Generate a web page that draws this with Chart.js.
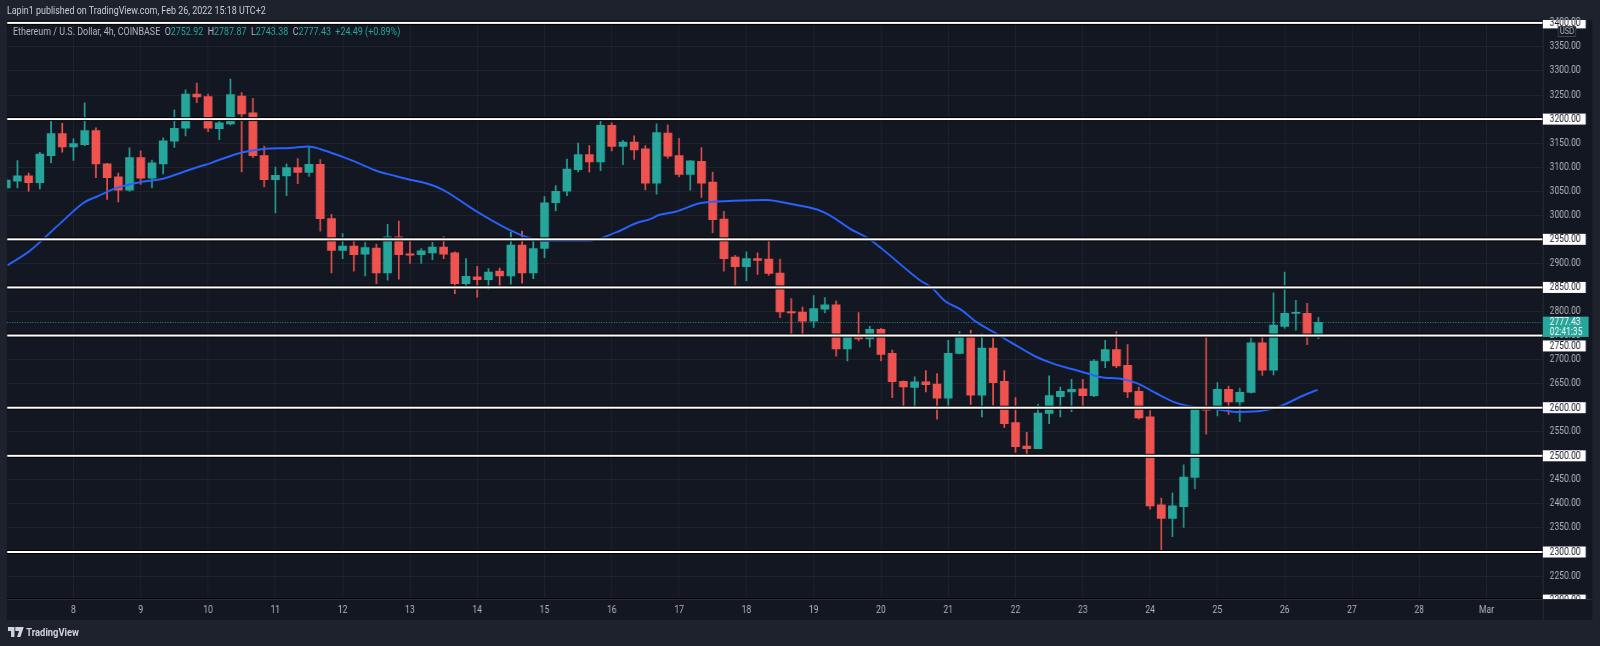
<!DOCTYPE html>
<html>
<head>
<meta charset="utf-8">
<script src="https://cdn.jsdelivr.net/npm/chart.js@4.4.1/dist/chart.umd.min.js"></script>
<style>
  html, body { margin: 0; padding: 0; background: #1e222d; overflow: hidden; width: 1600px; height: 646px; }
  #wrap { position: absolute; left: 0; top: 0; width: 1882px; height: 646px; transform: scaleX(0.85016); transform-origin: 0 0; font-family: Roboto, "Liberation Sans", sans-serif; }
  #panel { position: absolute; left: 8.2px; top: 20px; width: 1864.4px; height: 600px; background: #131722; }
  #box { position: absolute; left: 0; top: 0; width: 1882px; height: 646px; }
  #head { position: absolute; left: 8.2px; top: 4px; font-size: 10.5px; line-height: 13px; color: #c9ccd3; white-space: nowrap; }
  #legend { position: absolute; left: 15.3px; top: 25px; font-size: 10.5px; line-height: 13px; color: #b2b5be; white-space: nowrap; }
  #legend .v { color: #26a69a; }
  #foot { position: absolute; left: 9px; top: 626px; font-size: 11px; line-height: 14px; color: #d1d4dc; font-weight: bold; white-space: nowrap; }
  #foot svg { vertical-align: -1px; margin-right: 3px; }
</style>
</head>
<body>
<div id="wrap">
  <div id="panel"></div>
  <div id="box"><canvas id="chart"></canvas></div>
  <div id="head">Lapin1 published on TradingView.com, Feb 26, 2022 15:18 UTC+2</div>
  <div id="legend"></div>
  <div id="foot"><svg width="19" height="10" viewBox="0 0 19 10"><path d="M0 0h8v10H4V4H0z" fill="#d1d4dc"/><path d="M9 0h10l-4 10h-4l2.5-6H9z" fill="#d1d4dc"/></svg>TradingView</div>
</div>
<script>
// 4h candles, ETH/USD Coinbase, from Feb 7
const candleStart = 7;
const candleStep = 1 / 6;

const opens = [3057, 3071, 3082, 3068, 3124, 3170, 3142, 3147, 3176, 3107,
  3080, 3052, 3120, 3077, 3107, 3154, 3181, 3252, 3247, 3180,
  3190, 3248, 3213, 3124, 3074, 3082, 3099, 3089, 3106, 2993,
  2927, 2936, 2919, 2932, 2880, 2955, 2920, 2918, 2922, 2934,
  2922, 2858, 2872, 2866, 2884, 2874, 2938, 2880, 2931, 3026,
  3050, 3095, 3126, 3111, 3187, 3143, 3152, 3138, 3067, 3171,
  3124, 3085, 3112, 3069, 2992, 2913, 2893, 2910, 2909, 2880,
  2800, 2799, 2780, 2805, 2814, 2722, 2747, 2743, 2763, 2713,
  2655, 2642, 2654, 2649, 2620, 2713, 2749, 2626, 2724, 2655,
  2569, 2520, 2515, 2588, 2623, 2633, 2639, 2625, 2697, 2721,
  2688, 2634, 2581, 2398, 2370, 2394, 2455, 2599, 2599, 2638,
  2612, 2632, 2735, 2678, 2769, 2796, 2796, 2752.92];
const highs = [3080, 3114, 3088, 3131, 3199, 3191, 3159, 3234, 3182, 3108,
  3088, 3140, 3134, 3115, 3161, 3219, 3261, 3275, 3252, 3201,
  3283, 3255, 3243, 3144, 3100, 3107, 3118, 3142, 3116, 3002,
  2962, 2948, 2944, 2940, 2981, 2988, 2948, 2931, 2944, 2956,
  2924, 2910, 2894, 2889, 2890, 2965, 2967, 2948, 3039, 3062,
  3117, 3150, 3145, 3199, 3192, 3156, 3165, 3145, 3190, 3188,
  3160, 3114, 3141, 3090, 3008, 2917, 2924, 2922, 2946, 2909,
  2827, 2809, 2833, 2829, 2822, 2748, 2798, 2769, 2765, 2720,
  2656, 2664, 2677, 2671, 2740, 2758, 2761, 2754, 2745, 2677,
  2621, 2549, 2607, 2666, 2643, 2659, 2659, 2700, 2740, 2758,
  2731, 2643, 2594, 2412, 2423, 2481, 2603, 2753, 2652, 2645,
  2641, 2746, 2747, 2839, 2882, 2823, 2817, 2787.87];
const lows = [3050, 3057, 3050, 3055, 3109, 3131, 3114, 3145, 3078, 3033,
  3028, 3050, 3064, 3057, 3086, 3141, 3165, 3234, 3174, 3157,
  3188, 3090, 3120, 3059, 3005, 3041, 3066, 3081, 2967, 2880,
  2910, 2884, 2874, 2858, 2865, 2867, 2900, 2900, 2908, 2910,
  2837, 2851, 2830, 2846, 2848, 2857, 2859, 2868, 2912, 3009,
  3041, 3090, 3090, 3093, 3134, 3105, 3116, 3053, 3044, 3118,
  3080, 3052, 3037, 2964, 2884, 2852, 2864, 2877, 2875, 2787,
  2753, 2753, 2767, 2797, 2707, 2697, 2739, 2726, 2697, 2621,
  2602, 2602, 2633, 2576, 2604, 2712, 2607, 2581, 2605, 2559,
  2507, 2501, 2515, 2567, 2581, 2592, 2602, 2623, 2683, 2683,
  2621, 2576, 2389, 2302, 2332, 2351, 2431, 2545, 2583, 2586,
  2571, 2630, 2667, 2668, 2765, 2761, 2731, 2743.38];
const closes = [3073, 3082, 3068, 3127, 3170, 3142, 3149, 3176, 3107, 3078,
  3052, 3120, 3077, 3109, 3155, 3181, 3252, 3246, 3181, 3192,
  3251, 3211, 3124, 3074, 3083, 3099, 3089, 3106, 2993, 2927,
  2936, 2918, 2933, 2880, 2955, 2918, 2917, 2926, 2934, 2919,
  2858, 2873, 2866, 2882, 2874, 2938, 2880, 2931, 3026, 3050,
  3096, 3126, 3111, 3187, 3143, 3152, 3136, 3067, 3172, 3123,
  3085, 3113, 3067, 2991, 2910, 2893, 2910, 2906, 2879, 2799,
  2797, 2780, 2806, 2814, 2722, 2747, 2743, 2763, 2711, 2654,
  2643, 2654, 2648, 2620, 2713, 2749, 2626, 2724, 2652, 2567,
  2519, 2515, 2589, 2625, 2634, 2638, 2625, 2697, 2721, 2687,
  2633, 2579, 2396, 2370, 2396, 2456, 2601, 2595, 2638, 2612,
  2632, 2735, 2678, 2772, 2796, 2797, 2752.94, 2777.43];

// moving average (day of Feb, price)
const maDays = [7.02, 7.35, 7.80, 8.15, 8.35, 8.64, 8.99, 9.33, 9.63, 9.88,
  10.03, 10.18, 10.52, 10.82, 11.22, 11.49, 11.66, 12.01, 12.26, 12.51,
  12.75, 13.00, 13.25, 13.49, 13.99, 14.39, 14.73, 15.03, 15.67, 16.07,
  16.37, 16.57, 16.71, 16.96, 17.31, 17.80, 18.30, 18.65, 19.05, 19.24,
  19.54, 19.81, 20.01, 20.58, 20.75, 20.95, 21.20, 21.40, 21.69, 21.94,
  22.29, 22.59, 22.93, 23.25, 23.60, 23.82, 24.09, 24.39, 24.64, 24.94,
  25.33, 25.68, 25.93, 26.32, 26.49];
const maValues = [2896, 2926, 2983, 3026, 3039, 3057, 3069, 3076, 3090, 3102,
  3108, 3116, 3131, 3138, 3140, 3143, 3138, 3121, 3107, 3092,
  3083, 3074, 3066, 3053, 3008, 2976, 2955, 2947, 2947, 2965,
  2984, 2992, 3001, 3008, 3025, 3030, 3032, 3024, 3012, 3000,
  2972, 2952, 2931, 2865, 2850, 2822, 2803, 2780, 2756, 2735,
  2707, 2690, 2677, 2664, 2659, 2650, 2630, 2610, 2602, 2598,
  2591, 2594, 2603, 2628, 2637];

const levels = [3400, 3200, 2950, 2850, 2750, 2600, 2500, 2300, 2200];
const yTicks = [2250, 2300, 2350, 2400, 2450, 2500, 2550, 2600, 2650, 2700, 2750, 2800,
  2850, 2900, 2950, 3000, 3050, 3100, 3150, 3200, 3250, 3300, 3350, 3400];
const xTickDays = [8, 9, 10, 11, 12, 13, 14, 15, 16, 17, 18, 19, 20, 21, 22, 23, 24, 25, 26, 27, 28, 29];
const xTickLabels = ['8', '9', '10', '11', '12', '13', '14', '15', '16', '17', '18', '19', '20',
  '21', '22', '23', '24', '25', '26', '27', '28', 'Mar'];
const countdown = '02:41:35';

const UP = '#26a69a', DOWN = '#ef5350';
const n = closes.length;
const times = Array.from({ length: n }, (_, i) => candleStart + i * candleStep);
const colors = closes.map((c, i) => c >= opens[i] ? UP : DOWN);
const last = n - 1;
const lastPrice = closes[last];

// legend line
const chg = closes[last] - closes[last - 1];
const pct = chg / closes[last - 1] * 100;
document.getElementById('legend').innerHTML =
  'Ethereum / U.S. Dollar, 4h, COINBASE&nbsp;&nbsp;' +
  'O<span class="v">' + opens[last].toFixed(2) + '</span>&nbsp;&nbsp;' +
  'H<span class="v">' + highs[last].toFixed(2) + '</span>&nbsp;&nbsp;' +
  'L<span class="v">' + lows[last].toFixed(2) + '</span>&nbsp;&nbsp;' +
  'C<span class="v">' + closes[last].toFixed(2) + '</span>&nbsp;&nbsp;' +
  '<span class="v">+' + chg.toFixed(2) + ' (+' + pct.toFixed(2) + '%)</span>';

const S = 1600 / 1882;
const tickFont = { family: 'Roboto, "Liberation Sans", sans-serif', size: 10 };

const levelPlugin = {
  id: 'levels',
  beforeDatasetsDraw(chart) {
    const { ctx, chartArea: a, scales: { y } } = chart;
    const py = Math.round(y.getPixelForValue(lastPrice)) + 0.5;
    ctx.save();
    ctx.strokeStyle = UP;
    ctx.lineWidth = 1;
    ctx.setLineDash([1, 2]);
    ctx.beginPath();
    ctx.moveTo(a.left, py);
    ctx.lineTo(a.right, py);
    ctx.stroke();
    ctx.restore();
  },
  afterDatasetsDraw(chart) {
    const { ctx, chartArea: a, scales: { y } } = chart;
    ctx.save();
    ctx.beginPath();
    ctx.rect(a.left, a.top, a.right - a.left, a.bottom - a.top);
    ctx.clip();
    levels.forEach(l => {
      const py = y.getPixelForValue(l);
      ctx.fillStyle = '#000000';
      ctx.fillRect(a.left, py - 2, a.right - a.left, 4);
      ctx.fillStyle = '#ffffff';
      ctx.fillRect(a.left, py - 1, a.right - a.left, 2);
    });
    ctx.restore();
  },
  afterDraw(chart) {
    const { ctx, chartArea: a, scales: { y } } = chart;
    // separators
    ctx.save();
    ctx.strokeStyle = '#2a2e39';
    ctx.lineWidth = 1;
    ctx.beginPath();
    ctx.moveTo(a.right + 0.5, a.top);
    ctx.lineTo(a.right + 0.5, a.bottom + 21);
    ctx.moveTo(a.left, a.bottom + 0.5);
    ctx.lineTo(a.right + 58, a.bottom + 0.5);
    ctx.stroke();
    ctx.restore();

    const pp = y.getPixelForValue(lastPrice);
    const pTop = pp - 5.7, pBot = pp + 14.6;
    ctx.save();
    ctx.beginPath();
    ctx.rect(a.right, a.top, 70, a.bottom - a.top);
    ctx.clip();
    ctx.font = '10px Roboto, "Liberation Sans", sans-serif';
    ctx.textBaseline = 'middle';
    levels.forEach(l => {
      let by = y.getPixelForValue(l);
      if (by > pTop - 6 && by < pBot + 6) by = pBot + 9;
      ctx.fillStyle = '#ffffff';
      ctx.fillRect(a.right, by - 5.5, 50.6, 11);
      ctx.fillStyle = '#131722';
      ctx.fillText(l.toFixed(2), a.right + 8.2, by + 0.5);
    });
    // last price
    ctx.fillStyle = UP;
    ctx.fillRect(a.right, pTop, 54, pBot - pTop);
    ctx.fillStyle = '#ffffff';
    ctx.fillText(lastPrice.toFixed(2), a.right + 8.2, pp + 0.5);
    ctx.fillText(countdown, a.right + 8.2, pp + 10.5);
    // currency tag
    const ux = 1558 / S, uw = 18 / S;
    ctx.fillStyle = '#131722';
    ctx.fillRect(ux, 26.5, uw, 10);
    ctx.strokeStyle = '#434651';
    ctx.strokeRect(ux + 0.5, 26.5, uw - 1, 10);
    ctx.fillStyle = '#b2b5be';
    ctx.font = '9px Roboto, "Liberation Sans", sans-serif';
    ctx.textAlign = 'center';
    ctx.fillText('USD', ux + uw / 2, 32);
    ctx.restore();
  }
};

new Chart(document.getElementById('chart'), {
  type: 'bar',
  data: {
    datasets: [{
      type: 'line',
      data: maDays.map((d, i) => ({ x: d, y: maValues[i] })),
      borderColor: '#2962ff',
      borderWidth: 2,
      pointRadius: 0,
      cubicInterpolationMode: 'monotone',
      order: 0
    }, {
      data: times.map((t, i) => ({ x: t, y: [opens[i], closes[i]] })),
      backgroundColor: colors,
      borderWidth: 0,
      barThickness: 9.6,
      minBarLength: 1,
      grouped: false,
      order: 1
    }, {
      data: times.map((t, i) => ({ x: t, y: [lows[i], highs[i]] })),
      backgroundColor: colors,
      borderWidth: 0,
      barThickness: 1.2,
      grouped: false,
      order: 2
    }]
  },
  options: {
    responsive: true,
    maintainAspectRatio: false,
    animation: false,
    events: [],
    layout: { padding: { left: 8.23, right: 9.4, top: 20, bottom: 26 } },
    plugins: { legend: { display: false }, tooltip: { enabled: false } },
    scales: {
      x: {
        type: 'linear',
        min: 7.012,
        max: 29.835,
        offset: false,
        afterBuildTicks: s => { s.ticks = xTickDays.map(v => ({ value: v })); },
        afterFit: s => { s.height = 21; },
        grid: { color: 'rgba(42,46,57,0.55)', offset: false, drawTicks: false },
        border: { display: false },
        ticks: {
          color: '#b2b5be',
          font: tickFont,
          padding: 5,
          maxRotation: 0,
          autoSkip: false,
          callback: (v, i) => xTickLabels[i]
        }
      },
      y: {
        position: 'right',
        min: 2202.3,
        max: 3406,
        afterBuildTicks: s => { s.ticks = yTicks.map(v => ({ value: v })); },
        afterFit: s => { s.width = 58; },
        grid: { color: 'rgba(42,46,57,0.55)', drawTicks: false },
        border: { display: false },
        ticks: {
          color: '#b2b5be',
          font: tickFont,
          padding: 8.2,
          callback: v => v.toFixed(2)
        }
      }
    }
  },
  plugins: [levelPlugin]
});
</script>
</body>
</html>
